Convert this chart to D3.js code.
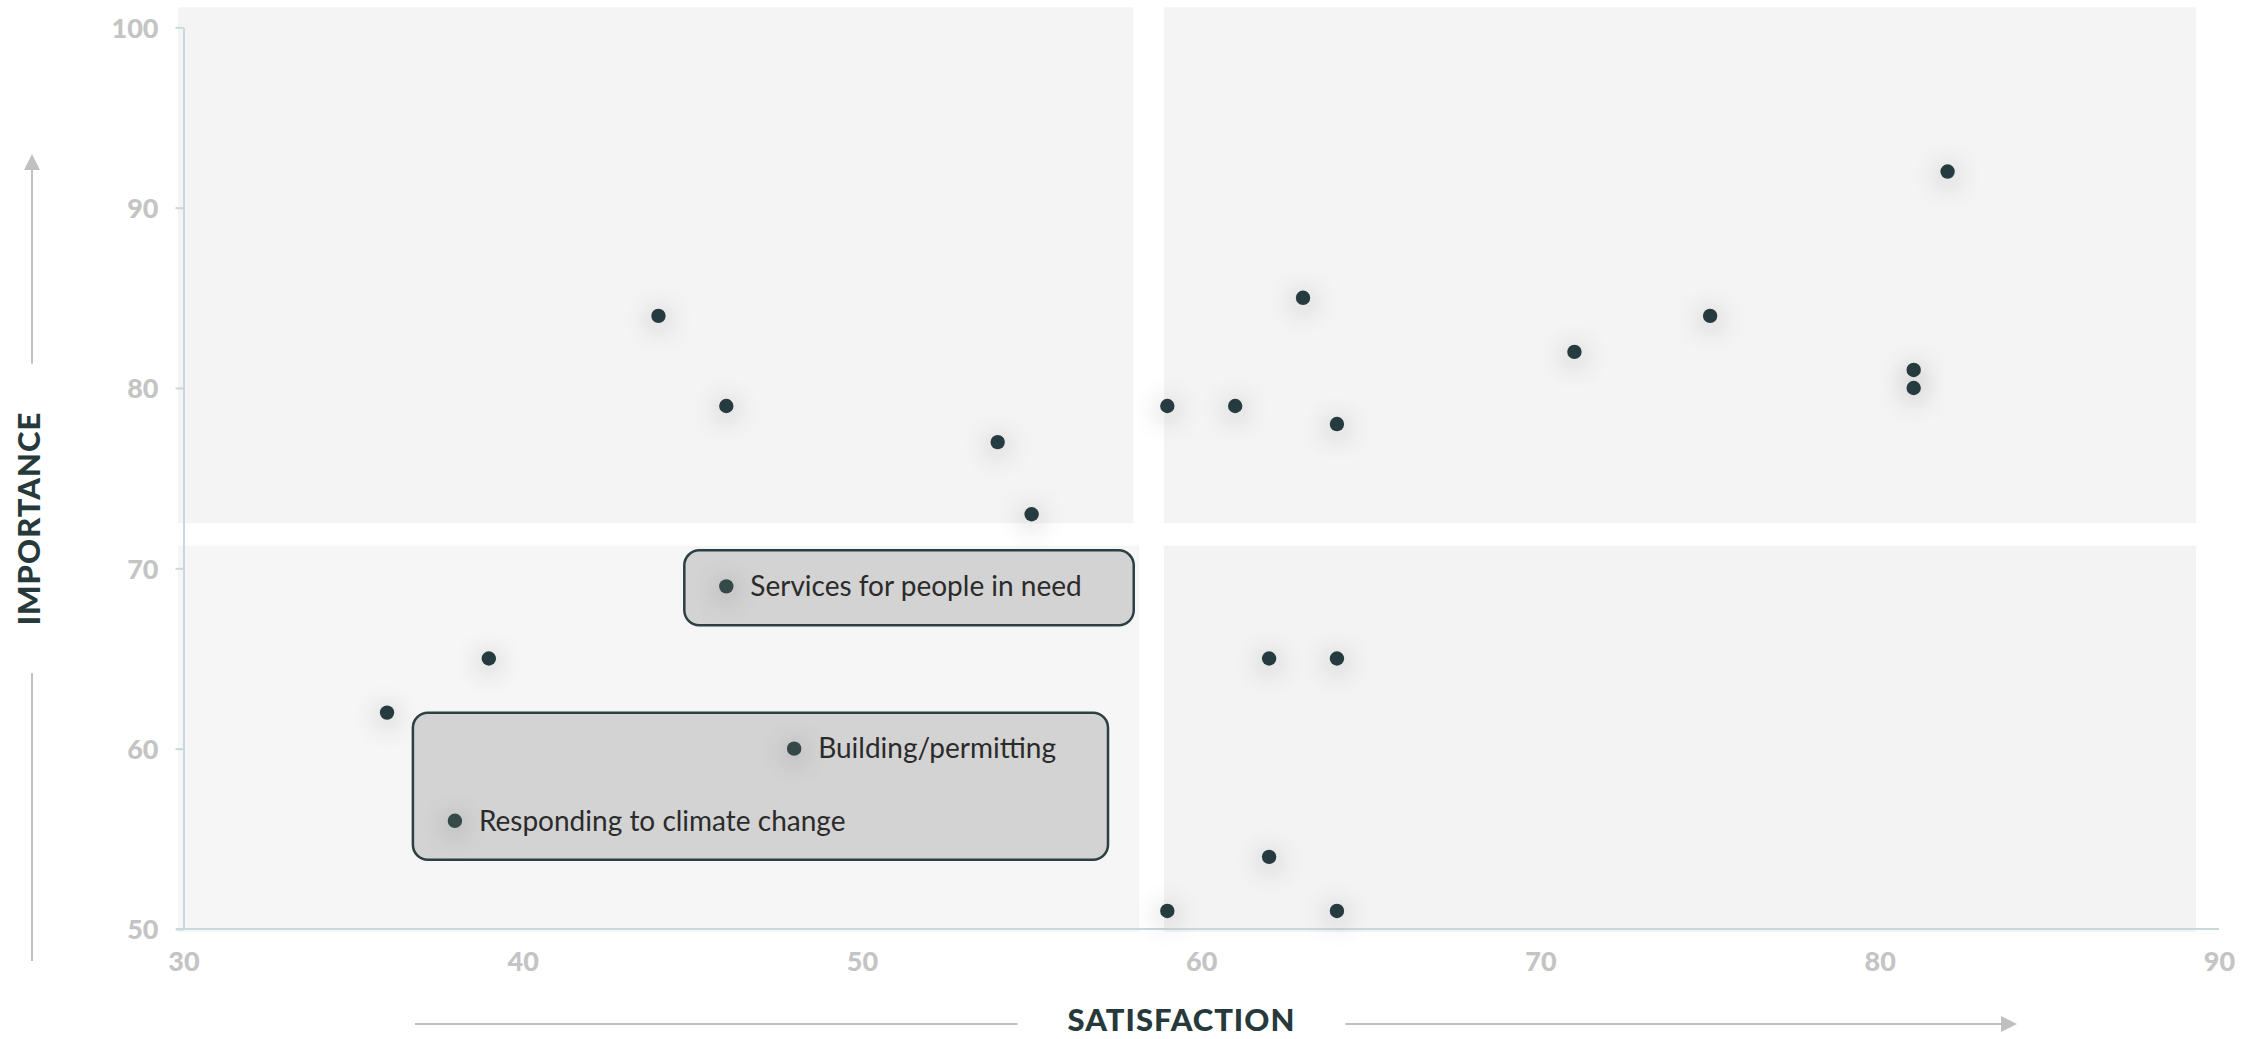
<!DOCTYPE html>
<html>
<head>
<meta charset="utf-8">
<script src="https://cdn.jsdelivr.net/npm/d3@7"></script>
<style>
  html, body { margin: 0; padding: 0; background: #fff; }
  svg { display: block; font-family: Lato, "Noto Sans", sans-serif; }
</style>
</head>
<body>
<svg id="chart" width="2267" height="1039"></svg>
<script>
const satisfaction = [44, 46, 54, 55, 59, 61, 63, 64, 71, 75, 82, 81, 81, 46, 39, 36, 48, 38, 62, 64, 62, 59, 64];
const importance = [84, 79, 77, 73, 79, 79, 85, 78, 82, 84, 92, 81, 80, 69, 65, 62, 60, 56, 65, 65, 54, 51, 51];
const pointLabels = [``, ``, ``, ``, ``, ``, ``, ``, ``, ``, ``, ``, ``,
  `Services for people in need`, ``, ``, `Building/permitting`, `Responding to climate change`, ``, ``, ``, ``, ``];
const labelGroups = [
  [`Services for people in need`],
  [`Building/permitting`, `Responding to climate change`]
];
const xTicks = [30, 40, 50, 60, 70, 80, 90];
const yTicks = [50, 60, 70, 80, 90, 100];
const xTitle = `SATISFACTION`;
const yTitle = `IMPORTANCE`;

const points = satisfaction.map((s, i) => ({s, imp: importance[i], label: pointLabels[i]}));

const svg = d3.select(`#chart`);

const x = d3.scaleLinear().domain([30, 90]).range([183.5, 2219]);
const y = d3.scaleLinear().domain([50, 100]).range([929, 27.3]);

// soft glow behind dots
const defs = svg.append(`defs`);
const glow = defs.append(`filter`).attr(`id`, `glow`)
  .attr(`x`, `-400%`).attr(`y`, `-400%`).attr(`width`, `900%`).attr(`height`, `900%`);
glow.append(`feDropShadow`)
  .attr(`dx`, 0).attr(`dy`, 4)
  .attr(`stdDeviation`, 13)
  .attr(`flood-color`, `#000`)
  .attr(`flood-opacity`, 0.38);

// quadrant panels
const panelLeft = x(30) - 5.5;
const panelRight = x(90) - 23;
const panelTop = y(100) - 20;
const panelBottom = y(50) + 3;
const panels = [
  {x0: panelLeft, x1: x(58), y0: panelTop, y1: y(72.5), fill: `#f4f4f4`},
  {x0: x(58.9), x1: panelRight, y0: panelTop, y1: y(72.5), fill: `#f4f4f4`},
  {x0: panelLeft, x1: x(58.17), y0: y(71.25), y1: panelBottom, fill: `#f6f6f6`},
  {x0: x(58.9), x1: panelRight, y0: y(71.25), y1: panelBottom, fill: `#f3f3f3`}
];
svg.append(`g`).selectAll(`rect`)
  .data(panels)
  .enter().append(`rect`)
    .attr(`x`, d => d.x0)
    .attr(`y`, d => d.y0)
    .attr(`width`, d => d.x1 - d.x0)
    .attr(`height`, d => d.y1 - d.y0)
    .attr(`fill`, d => d.fill);

// axes
const yAxis = svg.append(`g`)
  .attr(`transform`, `translate(${x(30)},0)`)
  .call(d3.axisLeft(y).tickValues(yTicks).tickSize(8).tickPadding(17).tickSizeOuter(0));
const xAxis = svg.append(`g`)
  .attr(`transform`, `translate(0,${y(50)})`)
  .call(d3.axisBottom(x).tickValues(xTicks).tickSize(0).tickPadding(23).tickSizeOuter(0));

[xAxis, yAxis].forEach(g => {
  g.select(`.domain`).attr(`stroke`, `#c8d9db`).attr(`stroke-width`, 2);
  g.selectAll(`.tick line`).attr(`stroke`, `#c8d9db`).attr(`stroke-width`, 2);
  g.selectAll(`.tick text`)
    .attr(`fill`, `#c4c4c4`)
    .style(`font-size`, `27px`)
    .style(`font-weight`, `900`)
    .style(`font-family`, `Lato, sans-serif`);
});
xAxis.select(`.domain`).attr(`d`, `M${x(30) - 7.5},0H${x(90)}`);
yAxis.selectAll(`.tick text`).attr(`dy`, `0.36em`);

// callout boxes
const lookup = name => points.find(p => p.label === name);
const boxLayer = svg.append(`g`);
const labelLayer = svg.append(`g`);

labelGroups.forEach(group => {
  const members = group.map(lookup);
  const texts = members.map(p => labelLayer.append(`text`)
    .attr(`x`, x(p.s) + 24)
    .attr(`y`, y(p.imp))
    .attr(`dy`, `0.35em`)
    .attr(`fill`, `#2b2b2b`)
    .style(`font-size`, `28px`)
    .text(p.label));
  const textRight = d3.max(texts, t => t.node().getBBox().x + t.node().getBBox().width);
  const x0 = d3.min(members, p => x(p.s)) - 42;
  const y0 = d3.min(members, p => y(p.imp)) - 36;
  const y1 = d3.max(members, p => y(p.imp)) + 39;
  boxLayer.append(`rect`)
    .attr(`x`, x0)
    .attr(`y`, y0)
    .attr(`width`, textRight + 52 - x0)
    .attr(`height`, y1 - y0)
    .attr(`rx`, 15)
    .attr(`fill`, `#d3d3d3`)
    .attr(`stroke`, `#2d3f42`)
    .attr(`stroke-width`, 2.5);
});

// dots
svg.append(`g`).selectAll(`circle`)
  .data(points)
  .enter().append(`circle`)
    .attr(`cx`, d => x(d.s))
    .attr(`cy`, d => y(d.imp))
    .attr(`r`, 7.2)
    .attr(`fill`, d => d.label ? `#35484a` : `#283b3f`)
    .attr(`filter`, `url(#glow)`);

labelLayer.raise();

// axis titles with arrows
const arrowColor = `#c0c0c0`;
const drawArrowHead = (tipX, tipY, dir) => {
  const s = 8, l = 16;
  const pts = dir === `up`
    ? [[tipX, tipY], [tipX - s, tipY + l], [tipX + s, tipY + l]]
    : [[tipX, tipY], [tipX - l, tipY - s], [tipX - l, tipY + s]];
  svg.append(`path`).attr(`d`, `M${pts.join(`L`)}Z`).attr(`fill`, arrowColor);
};

const xt = svg.append(`text`)
  .attr(`x`, 1181.5)
  .attr(`y`, 1031)
  .attr(`text-anchor`, `middle`)
  .attr(`fill`, `#26393b`)
  .style(`font-size`, `31px`)
  .style(`font-weight`, `900`)
  .style(`letter-spacing`, `1px`)
  .text(xTitle);
const xb = xt.node().getBBox();
const lineY = 1024;
svg.append(`line`).attr(`x1`, 415).attr(`x2`, xb.x - 50).attr(`y1`, lineY).attr(`y2`, lineY)
  .attr(`stroke`, arrowColor).attr(`stroke-width`, 2);
svg.append(`line`).attr(`x1`, xb.x + xb.width + 50).attr(`x2`, 2005).attr(`y1`, lineY).attr(`y2`, lineY)
  .attr(`stroke`, arrowColor).attr(`stroke-width`, 2);
drawArrowHead(2017, lineY, `right`);

const yt = svg.append(`text`)
  .attr(`transform`, `translate(40,518.5) rotate(-90)`)
  .attr(`text-anchor`, `middle`)
  .attr(`fill`, `#26393b`)
  .style(`font-size`, `31px`)
  .style(`font-weight`, `900`)
  .style(`letter-spacing`, `1px`)
  .text(yTitle);
const yLen = yt.node().getComputedTextLength();
const lineX = 32;
svg.append(`line`).attr(`x1`, lineX).attr(`x2`, lineX).attr(`y1`, 166).attr(`y2`, 518.5 - yLen / 2 - 48)
  .attr(`stroke`, arrowColor).attr(`stroke-width`, 2);
svg.append(`line`).attr(`x1`, lineX).attr(`x2`, lineX).attr(`y1`, 518.5 + yLen / 2 + 48).attr(`y2`, 961)
  .attr(`stroke`, arrowColor).attr(`stroke-width`, 2);
drawArrowHead(lineX, 154, `up`);
</script>
</body>
</html>
